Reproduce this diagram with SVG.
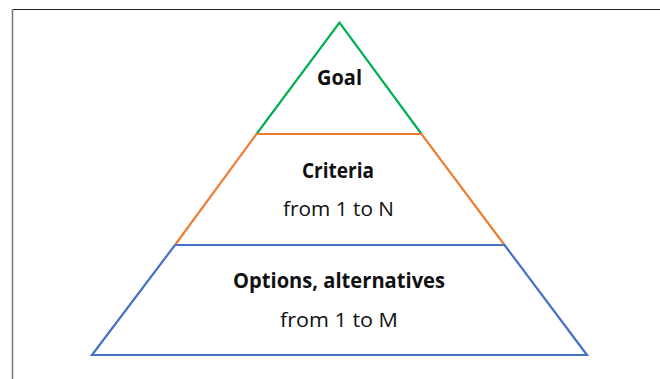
<svg xmlns="http://www.w3.org/2000/svg" width="660" height="379" viewBox="0 0 660 379">
<style>
.t{font-family:"Open Sans","Liberation Sans",sans-serif;font-size:20.5px;fill:#111;text-anchor:middle}
.b{font-weight:bold}
.e{fill:none;stroke-width:2.2;stroke-linejoin:miter}
</style>
<rect width="660" height="379" fill="#fff"/>
<g id="frame">
<line x1="12" y1="9.5" x2="660" y2="9.5" stroke="#222" stroke-width="1.2"/>
<line x1="12.5" y1="9" x2="12.5" y2="379" stroke="#777" stroke-width="1.5"/>
</g>
<g id="connectors">
<polyline class="e" stroke="#00B050" points="256.5,134 339.5,22.5 421.5,134"/>
<polyline class="e" stroke="#ED7D31" points="175,245 256.5,134 421.5,134 504.5,245"/>
<polyline class="e" stroke="#4472C4" points="175,245 504.5,245 587,355 92,355 175,245"/>
</g>
<g id="goal">
<text class="t b" x="339.5" y="85" textLength="45" lengthAdjust="spacingAndGlyphs">Goal</text>
</g>
<g id="criteria">
<text class="t b" x="338" y="178" textLength="72" lengthAdjust="spacingAndGlyphs">Criteria</text>
<text class="t" x="338.5" y="216" textLength="111" lengthAdjust="spacingAndGlyphs">from 1 to N</text>
</g>
<g id="options">
<text class="t b" x="339" y="288" textLength="212" lengthAdjust="spacingAndGlyphs">Options, alternatives</text>
<text class="t" x="339" y="327" textLength="118" lengthAdjust="spacingAndGlyphs">from 1 to M</text>
</g>
</svg>
